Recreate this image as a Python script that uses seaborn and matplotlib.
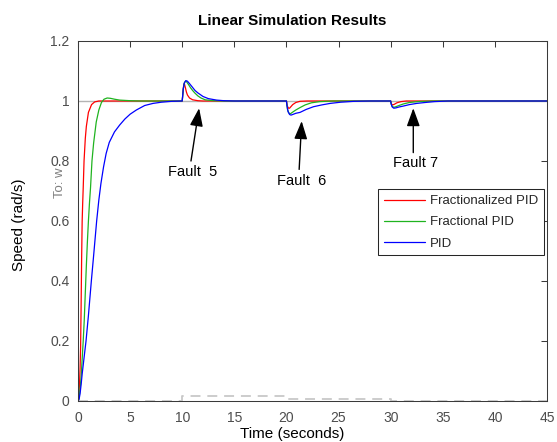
import numpy as np
import pandas as pd
import matplotlib
matplotlib.use("Agg")
import matplotlib.pyplot as plt
import seaborn as sns

# ---------------- data ----------------
series_names = ["Fractionalized PID", "Fractional PID", "PID"]
series_colors = ["#ff0000", "#1fb31f", "#0000ff"]

t_red = [0, 0.1, 0.15, 0.2, 0.25, 0.3, 0.35, 0.4, 0.45, 0.5, 0.58, 0.7, 0.8, 1.0, 1.3, 1.6, 2.0,
         10.0, 10.05, 10.1, 10.15, 10.2, 10.3, 10.4, 10.5, 10.7, 11.0, 11.5, 12.0,
         20.0, 20.05, 20.1, 20.2, 20.3, 20.4, 20.6, 20.9, 21.3, 22.0,
         30.0, 30.05, 30.1, 30.2, 30.35, 30.6, 31.0, 31.5, 45.0]
y_red = [0, 0.03, 0.06, 0.11, 0.18, 0.32, 0.48, 0.60, 0.66, 0.71, 0.80, 0.875, 0.915, 0.962, 0.988, 0.997, 1.0,
         1.0, 1.02, 1.04, 1.055, 1.058, 1.045, 1.03, 1.02, 1.01, 1.004, 1.001, 1.0,
         1.0, 0.99, 0.982, 0.976, 0.976, 0.98, 0.988, 0.995, 0.999, 1.0,
         1.0, 0.993, 0.989, 0.987, 0.989, 0.994, 0.998, 1.0, 1.0]

t_green = [0, 0.1, 0.2, 0.3, 0.4, 0.5, 0.6, 0.7, 0.8, 0.9, 1.0, 1.1, 1.2, 1.34, 1.5, 1.75, 2.0, 2.25,
           2.5, 2.8, 3.1, 3.5, 4.0, 5.0, 6.0,
           10.0, 10.05, 10.1, 10.2, 10.3, 10.4, 10.6, 10.8, 11.0, 11.2, 11.5, 11.8, 12.2, 13.0, 14.0,
           20.0, 20.05, 20.1, 20.2, 20.3, 20.4, 20.6, 20.9, 21.3, 21.8, 22.4, 23.2, 24.5,
           30.0, 30.05, 30.15, 30.3, 30.5, 30.8, 31.2, 31.8, 32.6, 34.0, 45.0]
y_green = [0, 0.01, 0.04, 0.08, 0.14, 0.20, 0.27, 0.36, 0.45, 0.53, 0.60, 0.66, 0.71, 0.80, 0.86, 0.93, 0.97, 0.995,
           1.006, 1.01, 1.009, 1.006, 1.003, 1.001, 1.0,
           1.0, 1.02, 1.04, 1.06, 1.066, 1.065, 1.055, 1.044, 1.035, 1.027, 1.017, 1.01, 1.004, 1.001, 1.0,
           1.0, 0.985, 0.972, 0.962, 0.958, 0.958, 0.963, 0.970, 0.978, 0.987, 0.994, 0.998, 1.0,
           1.0, 0.99, 0.982, 0.979, 0.981, 0.985, 0.99, 0.995, 0.998, 1.0, 1.0]

t_blue = [0, 0.1, 0.2, 0.3, 0.4, 0.5, 0.6, 0.77, 1.0, 1.28, 1.5, 1.79, 2.0, 2.2, 2.45,
          2.7, 3.0, 3.5, 4.0, 4.5, 5.0, 5.6, 6.4, 7.2, 8.0, 9.0, 10.0,
          10.05, 10.1, 10.2, 10.35, 10.5, 10.7, 11.0, 11.23, 11.5, 12.0, 12.5, 13.3, 14.0, 15.0,
          20.0, 20.05, 20.15, 20.3, 20.44, 20.6, 20.9, 21.3, 21.9, 22.6, 23.4, 24.2, 25.2, 26.5, 28.0,
          30.0, 30.05, 30.15, 30.3, 30.5, 30.8, 31.2, 31.8, 32.5, 33.3, 34.2, 35.5, 45.0]
y_blue = [0, 0.005, 0.025, 0.055, 0.09, 0.12, 0.15, 0.20, 0.285, 0.40, 0.485, 0.60, 0.67, 0.725, 0.78,
          0.825, 0.862, 0.897, 0.92, 0.94, 0.956, 0.97, 0.985, 0.992, 0.996, 0.999, 1.0,
          1.02, 1.04, 1.06, 1.068, 1.066, 1.058, 1.045, 1.035, 1.027, 1.015, 1.008, 1.003, 1.001, 1.0,
          1.0, 0.985, 0.965, 0.955, 0.953, 0.955, 0.959, 0.962, 0.972, 0.981, 0.987, 0.992, 0.996, 0.999, 1.0,
          1.0, 0.99, 0.98, 0.976, 0.977, 0.98, 0.983, 0.988, 0.992, 0.995, 0.998, 1.0, 1.0]

# simulation inputs (grey)
t_ref = [0, 45]
y_ref = [1, 1]
t_dist = [0, 10, 10, 20, 20, 30, 30, 45]
y_dist = [0, 0, 0.018, 0.018, 0.007, 0.007, 0, 0]

x_ticks = [0, 5, 10, 15, 20, 25, 30, 35, 40, 45]
y_ticks = [0, 0.2, 0.4, 0.6, 0.8, 1.0, 1.2]
y_ticklabels = ["0", "0.2", "0.4", "0.6", "0.8", "1", "1.2"]

faults = ["Fault  5", "Fault  6", "Fault 7"]
fault_text_xy = [(11.04, 0.762), (21.43, 0.733), (32.4, 0.793)]
fault_tail_xy = [(10.84, 0.800), (21.22, 0.772), (32.17, 0.828)]
fault_head_xy = [(11.62, 0.976), (21.46, 0.933), (32.17, 0.976)]

# ---------------- plot ----------------
sns.set_style("white")
plt.rcParams["font.family"] = ["Liberation Sans", "DejaVu Sans"]

fig = plt.figure(figsize=(5.57, 4.42), dpi=100)
ax = fig.add_axes([78 / 557, 41 / 442, 469 / 557, 360 / 442])

ref_df = pd.DataFrame({"t": t_ref, "y": y_ref})
sns.lineplot(data=ref_df, x="t", y="y", ax=ax, color="#b4b4b4", lw=1.0, sort=False, estimator=None)
dist_df = pd.DataFrame({"t": t_dist, "y": y_dist})
sns.lineplot(data=dist_df, x="t", y="y", ax=ax, color="#c8c8c8", lw=1.3, sort=False, estimator=None,
             dashes=False)
ax.lines[-1].set_dashes((5.5, 3.8))

data = [(t_red, y_red), (t_green, y_green), (t_blue, y_blue)]
for (tt, yy), name, col in zip(data, series_names, series_colors):
    df = pd.DataFrame({"t": tt, "y": yy})
    sns.lineplot(data=df, x="t", y="y", ax=ax, color=col, lw=0.9, sort=False, estimator=None, label=name)

ax.set_xlim(0, 45)
ax.set_ylim(0, 1.2)
ax.set_xticks(x_ticks)
ax.set_yticks(y_ticks)
ax.set_yticklabels(y_ticklabels)
ax.set_xlabel("")
ax.set_ylabel("")

for s in ax.spines.values():
    s.set_visible(True)
    s.set_color("#3a3a3a")
    s.set_linewidth(0.75)
ax.tick_params(axis="both", direction="in", length=4, width=0.75, color="#3a3a3a",
               labelcolor="#4d4d4d", labelsize=10, top=True, right=True)
ax.tick_params(axis="y", pad=6)
ax.tick_params(axis="x", pad=7)

leg = ax.legend(loc="upper left", bbox_to_anchor=(0.639, 0.589), fontsize=9.5, frameon=True,
                fancybox=False, edgecolor="#262626", framealpha=1, handlelength=3.1,
                handletextpad=0.4, labelspacing=0.68, borderpad=0.45, borderaxespad=0)
leg.get_frame().set_linewidth(0.75)

for label, txy, tail, head in zip(faults, fault_text_xy, fault_tail_xy, fault_head_xy):
    ax.annotate("", xy=head, xytext=tail,
                arrowprops=dict(arrowstyle="-|>,head_length=1.1,head_width=0.4", color="black",
                                lw=1.0, mutation_scale=10, shrinkA=0, shrinkB=0))
    ax.text(txy[0], txy[1], label, ha="center", va="center", fontsize=10.5, color="black")

fig.text(292.5 / 557, 1 - 21 / 442, "Linear Simulation Results", ha="center", va="center",
         fontsize=11, fontweight="bold", color="black")
fig.text(292.5 / 557, 1 - 434 / 442, "Time (seconds)", ha="center", va="center",
         fontsize=11, color="black")
fig.text(19 / 557, 1 - 225 / 442, "Speed (rad/s)", ha="center", va="center", rotation=90,
         fontsize=11, color="black")
fig.text(60 / 557, 1 - 183 / 442, "To: w", ha="center", va="center", rotation=90,
         fontsize=9.5, color="#7f7f7f")

fig.savefig("out.png", dpi=100)
